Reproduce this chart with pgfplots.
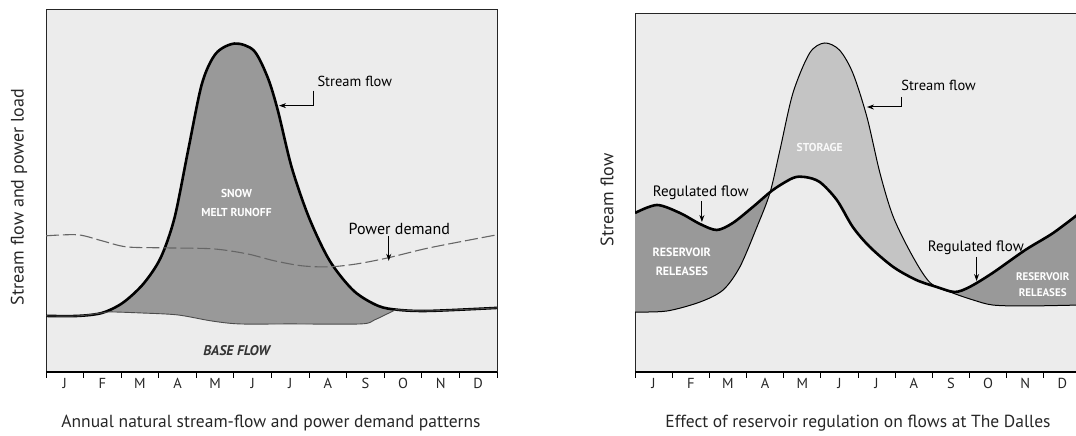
\documentclass[border=0pt]{standalone}
\usepackage{fontspec}
\setmainfont{PT Sans}
\usepackage{pgfplots}
\usepackage{pgfplotstable}
\pgfplotsset{compat=1.18}
\usepgfplotslibrary{fillbetween}
\usetikzlibrary{arrows.meta}

\definecolor{bg}{gray}{0.925}
\definecolor{darkfill}{gray}{0.60}
\definecolor{lightfill}{gray}{0.77}

\pgfplotstableread{
m y
0 56
0.85 56
1.49 59
2.04 69
2.59 88
3.05 114
3.42 154
3.78 221
4.15 288
4.52 318
5.02 328
5.53 321
5.90 294
6.17 261
6.54 204
7.0 154
7.55 111
8.19 81
8.84 66
9.39 62
10.2 61
12 64
}\streamL

\pgfplotstableread{
m y
0 56
0.85 56
1.49 59
1.7 60
2.5 59
3.5 57
4.4 51
5.15 48
6.5 48
8.37 48
8.74 52
9.3 62
9.39 62
10.2 61
12 64
}\baseL

\pgfplotstableread{
m y
0 136
0.85 137
1.49 131
2.13 125
3.05 124
4.43 123
5.35 118
6.08 111
6.82 106
7.55 105
8.28 108
9.1 114
10.2 124
12 137
}\powerL

\pgfplotstableread{
m y
0 60
0.86 61
1.75 70
2.37 82
2.82 105
3.28 145
3.63 179
3.9 222
4.25 279
4.7 319
5.1 329
5.5 322
5.86 299
6.24 255
6.59 199
6.95 155
7.48 115
7.95 89
8.55 79
9.1 72
9.62 67
10.5 66
12 67
}\streamR

\pgfplotstableread{
m y
0 159
0.59 167
1.21 159
1.75 148
2.2 142
2.63 149
3.17 165
3.71 182
4.25 194
4.57 195
4.97 190
5.43 172
5.86 145
6.32 125
6.95 105
7.57 92
8.12 85
8.6 80
9.0 85
9.62 99
10.5 122
11.25 139
12 160
}\regR

\pgfplotsset{
  monthaxis/.style={
    scale only axis, anchor=south west,
    set layers,
    xmin=0, xmax=12, ymin=0,
    axis background/.style={fill=bg},
    axis line style={line width=1pt, black!85},
    xtick={0.5,1.5,2.5,3.5,4.5,5.5,6.5,7.5,8.5,9.5,10.5,11.5},
    xticklabels={J,F,M,A,M,J,J,A,S,O,N,D},
    major tick length=0pt,
    minor xtick={0,1,2,3,4,5,6,7,8,9,10,11,12},
    minor tick length=6pt,
    tick align=outside,
    xtick pos=bottom,
    ytick=\empty,
    tick style={line width=1pt, black},
    xticklabel style={font=\fontsize{14.5}{15}\selectfont, text=black!85, yshift=-3pt},
  }
}
\tikzset{annot/.style={font=\fontsize{14.5}{15}\selectfont, text=black},
  arr/.style={-{Stealth[length=7pt,width=5pt]}, line width=1pt, black},
  wlab/.style={font=\bfseries\fontsize{11.5}{19}\selectfont, text=white, align=center}}

\begin{document}
\begin{tikzpicture}

% ---------- left panel ----------
\begin{axis}[monthaxis, name=L, at={(46pt,64pt)}, width=451pt, height=362.5pt, ymax=362]
\addplot[name path=sL, line width=2.6pt, black, smooth] table[x=m,y=y] {\streamL};
\addplot[name path=bL, line width=0.9pt, black!70, smooth] table[x=m,y=y] {\baseL};
\addplot[darkfill] fill between[of=sL and bL];
\addplot[line width=1.1pt, black!60, dash pattern=on 13pt off 4pt, smooth] table[x=m,y=y] {\powerL};
\node[annot, anchor=west] at (axis cs:7.13,290) {Stream flow};
\draw[arr] (axis cs:7.13,281) -- (axis cs:7.13,266) -- (axis cs:6.2,266);
\node[annot, anchor=west, font=\fontsize{16}{16}\selectfont] at (axis cs:7.96,143) {Power demand};
\draw[arr] (axis cs:9.12,136) -- (axis cs:9.12,111);
\node[wlab] at (axis cs:5.07,169) {SNOW\\MELT RUNOFF};
\node[font=\bfseries\itshape\fontsize{14}{14}\selectfont, text=black!80] at (axis cs:5.07,21) {BASE FLOW};
\end{axis}
\draw[line width=2.6pt] (L.south west) -- (L.south east);

% ---------- right panel ----------
\begin{axis}[monthaxis, name=R, at={(635pt,64pt)}, width=446pt, height=358pt, ymax=358]
\addplot[name path=sR, line width=1pt, black, smooth] table[x=m,y=y] {\streamR};
\addplot[name path=rR, line width=2.6pt, black, smooth] table[x=m,y=y] {\regR};
\addplot[darkfill] fill between[of=rR and sR, soft clip={(axis cs:-1,-10) rectangle (axis cs:3.58,400)}];
\addplot[lightfill] fill between[of=rR and sR, soft clip={(axis cs:3.58,-10) rectangle (axis cs:8.15,400)}];
\addplot[darkfill] fill between[of=rR and sR, soft clip={(axis cs:8.15,-10) rectangle (axis cs:13,400)}];
\node[annot, anchor=west] at (axis cs:7.07,287) {Stream flow};
\draw[arr] (axis cs:7.18,275) -- (axis cs:7.18,265) -- (axis cs:6.24,265);
\node[annot, font=\fontsize{15}{15}\selectfont] at (axis cs:1.77,179) {Regulated flow};
\draw[arr] (axis cs:1.8,171) -- (axis cs:1.8,150);
\node[annot, font=\fontsize{15}{15}\selectfont] at (axis cs:9.17,124) {Regulated flow};
\draw[arr] (axis cs:9.19,115) -- (axis cs:9.19,91);
\node[wlab, font=\bfseries\fontsize{12}{19}\selectfont] at (axis cs:1.26,110) {RESERVOIR\\RELEASES};
\node[wlab, font=\bfseries\fontsize{11}{16}\selectfont] at (axis cs:10.97,87) {RESERVOIR\\RELEASES};
\node[wlab, text=white!90!lightfill] at (axis cs:4.97,225) {STORAGE};
\end{axis}
\draw[line width=2.6pt] (R.south west) -- (R.south east);

% ---------- labels ----------
\node[rotate=90, font=\fontsize{18}{18}\selectfont, text=black!85] at (19pt,239pt) {Stream flow and power load};
\node[rotate=90, font=\fontsize{18}{18}\selectfont, text=black!85] at (607pt,236pt) {Stream flow};
\node[font=\fontsize{17.5}{18}\selectfont, text=black!85] at (271pt,13pt) {Annual natural stream-flow and power demand patterns};
\node[font=\fontsize{17.5}{18}\selectfont, text=black!85] at (858pt,13pt) {Effect of reservoir regulation on flows at The Dalles};

\pgfresetboundingbox
\useasboundingbox (0,0) rectangle (1076pt,436pt);
\end{tikzpicture}
\end{document}
